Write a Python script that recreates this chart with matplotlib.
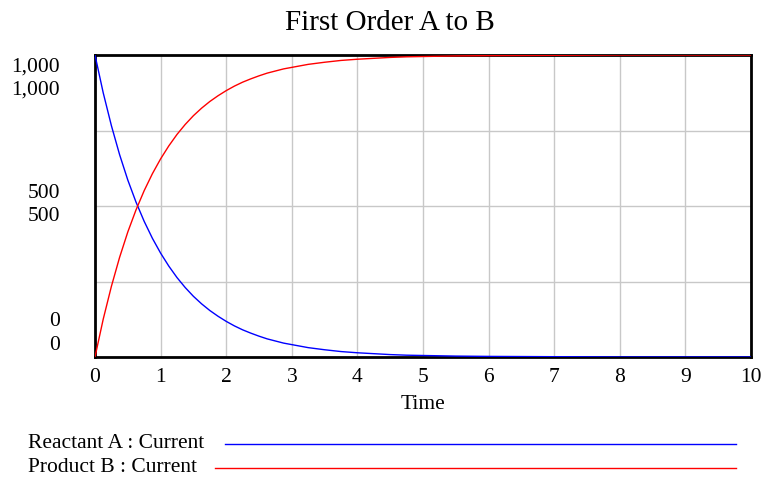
import matplotlib
matplotlib.use("Agg")
import matplotlib.pyplot as plt

plt.rcParams['font.family'] = ['Liberation Serif', 'DejaVu Serif']

title = "First Order A to B"
xlabel = "Time"
series_names = ["Reactant A : Current", "Product B : Current"]
series_colors = ["#0000ff", "#ff0000"]

time = [0, 0.125, 0.25, 0.375, 0.5, 0.625, 0.75, 0.875, 1.0, 1.125, 1.25, 1.375,
        1.5, 1.625, 1.75, 1.875, 2.0, 2.125, 2.25, 2.375, 2.5, 2.625, 2.75,
        2.875, 3.0, 3.25, 3.5, 3.75, 4.0, 4.25, 4.5, 4.75, 5.0, 5.5, 6.0,
        7.0, 8.0, 10.0]
reactant_a = [1000, 875, 766, 670, 586, 513, 449, 393, 344, 301, 263, 230,
              201, 176, 154, 135, 118, 103, 90, 79, 69, 60, 53,
              46, 41, 31, 24, 18, 14, 11, 8, 6, 5, 3, 2,
              1, 0, 0]
product_b = [0, 125, 234, 330, 414, 487, 551, 607, 656, 699, 737, 770,
             799, 824, 846, 865, 882, 897, 910, 921, 931, 940, 947,
             954, 959, 969, 976, 982, 986, 989, 992, 994, 995, 997, 998,
             999, 1000, 1000]

xticks = list(range(0, 11))
ytick_values = [1000, 500, 0]
ytick_labels = ["1,000", "500", "0"]

W, H = 764, 478
fig = plt.figure(figsize=(W / 100, H / 100), dpi=100)
left, right, top, bottom = 95, 751, 55, 357
ax = fig.add_axes([left / W, 1 - bottom / H, (right - left) / W, (bottom - top) / H])

ax.plot(time, reactant_a, color=series_colors[0], lw=1.0, zorder=3)
ax.plot(time, product_b, color=series_colors[1], lw=1.0, zorder=3)

ax.set_xlim(0, 10)
ax.set_ylim(0, 1000)
ax.set_xticks(xticks)
ax.set_xticklabels([str(x) for x in xticks], fontsize=15.5)
ax.set_yticks([0, 250, 500, 750, 1000])
ax.set_yticklabels([])
ax.tick_params(length=0, pad=8)
ax.grid(True, color="#c8c8c8", lw=1.0)
ax.set_axisbelow(True)
for s in ax.spines.values():
    s.set_linewidth(2)
    s.set_color("black")
ax.set_xlabel(xlabel, fontsize=15.5, labelpad=6)

fig.text(390 / W, 1 - 23 / H, title, ha="center", va="center", fontsize=21)

# stacked y labels (one per series)
ylabel_positions = {1000: (67, 90), 500: (193, 216), 0: (321, 345)}
for v, lab in zip(ytick_values, ytick_labels):
    for ypx in ylabel_positions[v]:
        fig.text(60 / W, 1 - ypx / H, lab, ha="right", va="center", fontsize=15.5)

# legend at bottom
legend_rows = [(444, 225), (468, 215)]
for (ypx, x0), name, col in zip(legend_rows, series_names, series_colors):
    fig.text(28 / W, 1 - ypx / H, name, ha="left", va="center", fontsize=15.5)
    fig.add_artist(plt.Line2D([x0 / W, 736 / W], [1 - ypx / H, 1 - ypx / H],
                              color=col, lw=1.0, transform=fig.transFigure))

fig.savefig("out.png", dpi=100)
